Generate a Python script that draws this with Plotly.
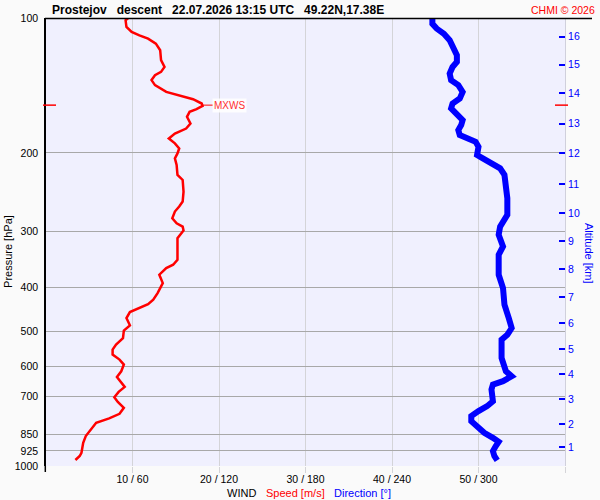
import math
import plotly.graph_objects as go

# ---- data ----
speed_p = [100, 101.2, 104.7, 107.4, 109.3, 111.2, 114.1, 118.0, 124.2, 128.6,
           131.9, 134.2, 137.6, 141.2, 146.2, 148.7, 151.8, 155.2, 157.1, 159.8,
           162.0, 166.2, 172.0, 176.5, 181.1, 185.7, 190.5, 195.5, 200.6, 205.8,
           212.8, 224.0, 229.9, 244.1, 256.9, 263.6, 270.4, 279.9, 287.2, 292.1,
           298.1, 310.1, 346.4, 355.4, 361.6, 374.1, 390.6, 411.2, 425.3, 435.1,
           445.5, 453.3, 467.5, 485.3, 498.7, 518.1, 535.9, 549.8, 564.1, 578.7,
           593.7, 614.5, 632.7, 652.5, 666.0, 683.3, 702.1, 719.2, 741.6, 764.8,
           783.0, 801.0, 828.5, 857.5, 887.7, 934.1, 950.0, 969.7]
speed_ms = [9.5, 9.2, 9.3, 9.9, 10.8, 11.8, 12.7, 13.2, 13.3, 13.7,
            13.3, 12.6, 12.2, 12.6, 13.9, 15.4, 17.0, 18.0, 18.1, 17.4,
            16.6, 16.3, 16.7, 16.2, 14.9, 14.2, 14.9, 15.4, 15.2, 14.9,
            15.1, 15.2, 15.8, 15.9, 15.8, 15.4, 14.9, 14.6, 15.1, 15.8,
            15.9, 15.2, 15.2, 14.7, 13.9, 13.1, 13.5, 12.9, 12.4, 11.8,
            10.6, 9.7, 9.3, 9.7, 9.0, 8.9, 8.1, 7.7, 7.7, 8.5,
            9.0, 8.7, 8.2, 8.7, 9.1, 8.4, 7.9, 8.3, 9.0, 8.5,
            7.3, 5.8, 5.2, 4.6, 4.3, 4.1, 3.9, 3.4]

dir_p = [100, 103.0, 105.6, 108.4, 112.1, 116.0, 121.1, 125.3, 128.6, 133.1,
         137.6, 141.2, 146.2, 151.3, 155.2, 159.2, 164.7, 169.0, 173.4, 177.9,
         182.5, 185.0, 188.9, 193.8, 202.2, 205.8, 211.1, 216.6, 224.0, 233.9,
         252.6, 275.1, 284.7, 292.1, 304.8, 312.6, 323.6, 337.7, 352.5, 374.1,
         400.8, 436.4, 467.5, 492.1, 509.1, 522.3, 573.9, 614.5, 630.5, 646.8,
         657.9, 675.0, 716.6, 735.2, 754.3, 773.8, 794.0, 814.6, 843.2, 865.0,
         883.1, 902.7, 926.2, 950.0, 971.2]
dir_deg = [268, 268, 271, 276, 280, 282, 285, 285, 282, 280,
           281, 286, 289, 287, 282, 281, 285, 289, 288, 286,
           287, 292, 298, 300, 299, 303, 310, 315, 318, 319,
           320, 320, 317, 315, 314, 315, 317, 314, 314, 314,
           317, 318, 321, 323, 320, 316, 316, 319, 323, 317,
           310, 309, 310, 306, 300, 295, 295, 299, 304, 310,
           314, 312, 310, 311, 313]

mxws_speed = 18.1
mxws_p = 156.5

p_ticks = [100, 200, 300, 400, 500, 600, 700, 850, 925, 1000]
p_labels = [str(v) for v in p_ticks]
wind_ticks = [10, 20, 30, 40, 50, 60]
wind_labels = ["10 / 60", "20 / 120", "30 / 180", "40 / 240", "50 / 300", ""]
alt_km = list(range(1, 17))
alt_p = [907, 806, 709, 624, 549, 480, 420, 364, 315, 273, 235, 200, 172, 147, 127, 110]

title_text = "Prostejov\u00a0\u00a0 descent\u00a0\u00a0 22.07.2026 13:15 UTC\u00a0\u00a0 49.22N,17.38E"

FONT = "Liberation Sans, Arial, sans-serif"
L, R, T, B = 46, 565, 16, 466


def px(x):
    return (x - L) / (R - L)


def py(y):
    return (B - y) / (B - T)


fig = go.Figure()
fig.add_trace(go.Scatter(x=speed_ms, y=speed_p, mode="lines", xaxis="x", yaxis="y",
                         line=dict(color="#ff0000", width=2.5), hoverinfo="skip"))
fig.add_trace(go.Scatter(x=dir_deg, y=dir_p, mode="lines", xaxis="x2", yaxis="y",
                         line=dict(color="#0000ff", width=6), hoverinfo="skip"))
# invisible trace to activate the altitude axis
fig.add_trace(go.Scatter(x=[None], y=[None], xaxis="x", yaxis="y2", showlegend=False))

fig.update_layout(
    width=600, height=500,
    margin=dict(l=L, r=600 - R, t=T, b=500 - B, pad=0),
    paper_bgcolor="#fafafa", plot_bgcolor="#f0f0fe",
    showlegend=False,
    font=dict(family=FONT, size=10, color="black"),
    xaxis=dict(range=[0, 60], tickvals=wind_ticks, ticktext=wind_labels,
               showgrid=True, gridcolor="#d4d4d8", gridwidth=1,
               ticks="outside", ticklen=6, tickcolor="#d4d4d8",
               ticklabelstandoff=-3,
               zeroline=False, showline=False, fixedrange=True,
               tickfont=dict(size=10.5, color="black")),
    xaxis2=dict(range=[0, 360], overlaying="x", visible=False, fixedrange=True),
    yaxis=dict(type="log", range=[3, 2], tickvals=p_ticks, ticktext=p_labels,
               showgrid=True, gridcolor="#a8a8a8", gridwidth=1,
               showline=True, linecolor="black", linewidth=1.5,
               ticks="outside", ticklen=4, tickcolor="rgba(0,0,0,0)",
               zeroline=False, fixedrange=True, tickfont=dict(size=10.5, color="black")),
    yaxis2=dict(type="log", range=[3, 2], overlaying="y", side="right",
                tickvals=alt_p, ticktext=[str(a) for a in alt_km],
                showgrid=False, showline=True, linecolor="#d0d0dc", linewidth=1,
                ticks="inside", ticklen=6, tickwidth=2, tickcolor="#0000ff",
                zeroline=False, fixedrange=True, tickfont=dict(size=10.5, color="#0000ff")),
)

shapes = [
    dict(type="line", xref="paper", yref="paper", x0=px(45), x1=px(592), y0=py(16.5), y1=py(16.5),
         line=dict(color="black", width=1.5)),
    dict(type="line", xref="paper", yref="paper", x0=px(45.3), x1=px(45.3), y0=py(466), y1=py(472),
         line=dict(color="black", width=1.5)),
    dict(type="line", xref="paper", yref="y", x0=px(43), x1=px(56), y0=mxws_p, y1=mxws_p,
         line=dict(color="#ff0000", width=1.5)),
    dict(type="line", xref="paper", yref="y", x0=px(555), x1=px(568), y0=mxws_p, y1=mxws_p,
         line=dict(color="#ff0000", width=1.5)),
]
fig.update_layout(shapes=shapes)

ann = [
    dict(text="<b>" + title_text + "</b>", x=px(50), y=py(8), xanchor="left", yanchor="middle",
         font=dict(size=12, color="black")),
    dict(text="CHMI \u00a9 2026", x=px(597), y=py(8), xanchor="right", yanchor="middle",
         font=dict(size=10.5, color="#ff0000")),
    dict(text="Pressure [hPa]", x=px(8), y=py(251), textangle=-90, xanchor="center", yanchor="middle",
         font=dict(size=11, color="black")),
    dict(text="Altitude [km]", x=px(589), y=py(252), textangle=90, xanchor="center", yanchor="middle",
         font=dict(size=11, color="#0000ff")),
    dict(text="WIND", x=px(225), y=py(493), xanchor="left", yanchor="middle",
         font=dict(size=11, color="black")),
    dict(text="Speed [m/s]", x=px(264), y=py(493), xanchor="left", yanchor="middle",
         font=dict(size=11, color="#ff0000")),
    dict(text="Direction [\u00b0]", x=px(332), y=py(493), xanchor="left", yanchor="middle",
         font=dict(size=11, color="#0000ff")),
]
for a in ann:
    a.update(xref="paper", yref="paper", showarrow=False)
ann.append(dict(text="MXWS", x=mxws_speed, y=math.log10(mxws_p),
                xref="x", yref="y", showarrow=True, arrowhead=0, arrowwidth=1,
                arrowcolor="#ff0000", ax=27, ay=0, standoff=0,
                bgcolor="rgba(255,255,255,0.85)", borderpad=1,
                font=dict(size=10, color="#ff3030")))
fig.update_layout(annotations=ann)

fig.write_html("out.html", config={"displayModeBar": False},
               post_script="document.body.style.margin='0';document.body.style.padding='0';")
